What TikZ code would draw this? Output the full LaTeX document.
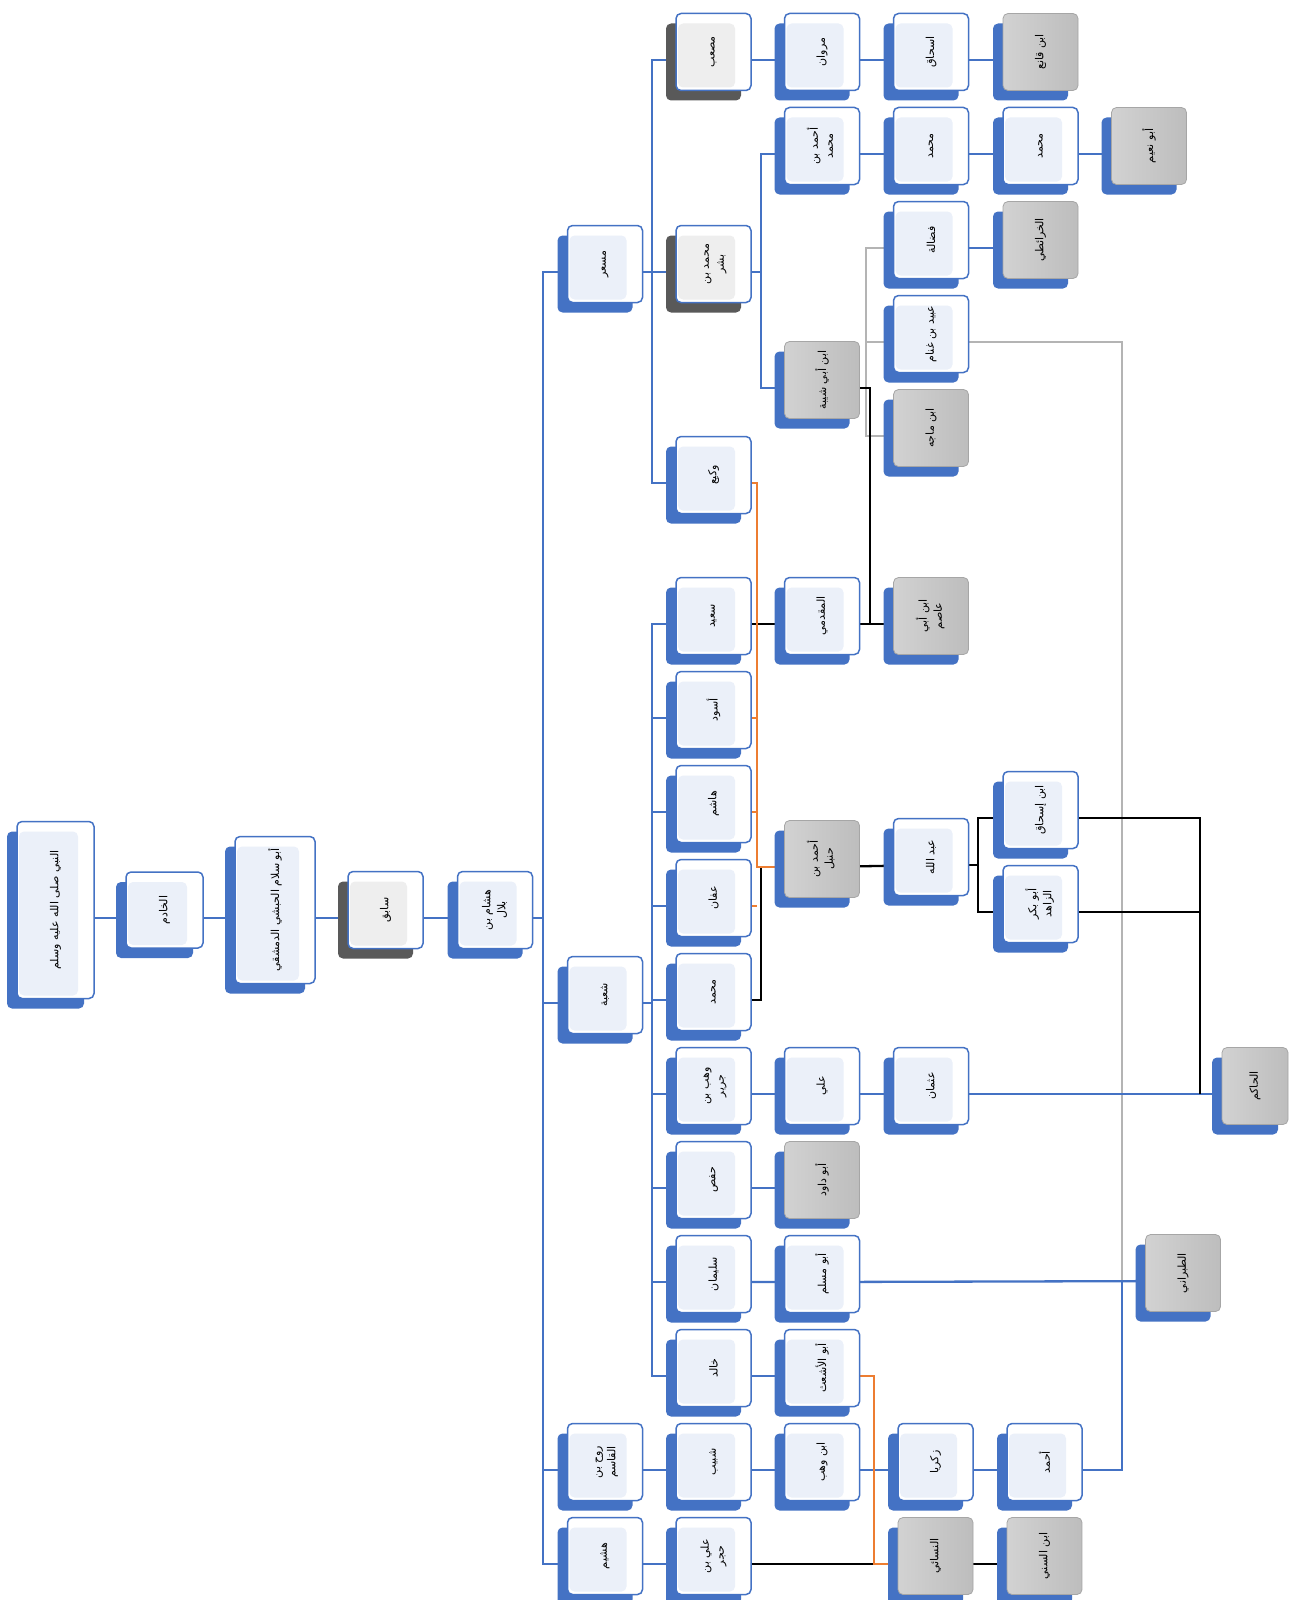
\documentclass[tikz,border=0pt]{standalone}
\usepackage{fontspec}
\usepackage{graphicx}
\usetikzlibrary{shadows,calc}
\newfontfamily\arabicfont[Script=Arabic]{DejaVu Sans}
\TeXXeTstate=1
\definecolor{bblue}{HTML}{4472C4}
\definecolor{dgray}{HTML}{595959}
\definecolor{ltblue}{HTML}{EBF0F9}
\definecolor{ltgray}{HTML}{EEEEEE}
\definecolor{lorange}{HTML}{ED7D31}
\definecolor{lgray}{HTML}{B4B4B4}
\definecolor{gA}{HTML}{D2D2D2}
\definecolor{gB}{HTML}{BDBDBD}
\pgfdeclarelayer{bg}
\pgfsetlayers{bg,main}
\newcommand\AR[1]{\rotatebox{90}{\beginR#1\endR}}
\newcommand\ARR[2]{\rotatebox{90}{\begin{tabular}{@{}c@{}}\beginR#1\endR\\[1pt]\beginR#2\endR\end{tabular}}}
\newcommand\bx[5]{\node[#1] (#2) at (#3,#4) {#5};
  \coordinate (#2p) at ([yshift=-8pt]#2.center);}
\tikzset{
  base/.style={rounded corners=5pt, minimum width=75pt, minimum height=77pt,
    inner sep=2pt, anchor=center, font=\arabicfont\fontsize{11}{14}\selectfont},
  bwbox/.style={base, general shadow={shadow xshift=-10pt, shadow yshift=-10pt, fill=bblue},
    draw=bblue, line width=1.5pt, fill=white,
    path picture={\fill[ltblue] ([shift={(2pt,3pt)}]path picture bounding box.south west)
      rectangle ([shift={(-16pt,-10pt)}]path picture bounding box.north east);}},
  dwbox/.style={base, general shadow={shadow xshift=-10pt, shadow yshift=-10pt, fill=dgray},
    draw=bblue, line width=1.5pt, fill=white,
    path picture={\fill[ltgray] ([shift={(2pt,3pt)}]path picture bounding box.south west)
      rectangle ([shift={(-16pt,-10pt)}]path picture bounding box.north east);}},
  gbox/.style={base, general shadow={shadow xshift=-10pt, shadow yshift=-10pt, fill=bblue},
    draw=gray!70, line width=0.8pt, left color=gA, right color=gB},
  bl/.style={draw=bblue, line width=2.3pt},
  bk/.style={draw=black, line width=2.3pt},
  gy/.style={draw=lgray, line width=2.3pt},
  og/.style={draw=lorange, line width=2.3pt}
}
\begin{document}
\begin{tikzpicture}[x=1pt,y=-1pt]
\useasboundingbox (0,0) rectangle (1290,1600);
% chain
\bx{bwbox, minimum width=77pt, minimum height=177pt}{root}{55.5}{910}{\AR{النبي صلى الله عليه وسلم}}
\bx{bwbox, minimum width=77pt, minimum height=76pt}{khadim}{164.5}{910}{\AR{الخادم}}
\bx{bwbox, minimum width=80pt, minimum height=147pt}{abusalam}{275}{910}{\AR{أبو سلام الحبشي الدمشقي}}
\bx{dwbox}{sabiq}{385.5}{910}{\AR{سابق}}
\bx{bwbox}{hisham}{495}{910}{\ARR{هشام بن}{بلال}}
% column 5
\bx{bwbox}{misar}{605}{264}{\AR{مسعر}}
\bx{bwbox}{shuba}{605}{995}{\AR{شعبة}}
\bx{bwbox}{rawh}{605}{1462}{\ARR{روح بن}{القاسم}}
\bx{bwbox}{hushaym}{605}{1556}{\AR{هشيم}}
% column 6
\bx{dwbox}{musab}{713.5}{52}{\AR{مصعب}}
\bx{dwbox}{mbbishr}{713.5}{264}{\ARR{محمد بن}{بشر}}
\bx{bwbox}{waki}{713.5}{475}{\AR{وكيع}}
\bx{bwbox}{said}{713.5}{616}{\AR{سعيد}}
\bx{bwbox}{aswad}{713.5}{710}{\AR{أسود}}
\bx{bwbox}{hashim}{713.5}{804}{\AR{هاشم}}
\bx{bwbox}{affan}{713.5}{898}{\AR{عفان}}
\bx{bwbox}{muhsix}{713.5}{992}{\AR{محمد}}
\bx{bwbox}{wahb}{713.5}{1086}{\ARR{وهب بن}{جرير}}
\bx{bwbox}{hafs}{713.5}{1180}{\AR{حفص}}
\bx{bwbox}{sulayman}{713.5}{1274}{\AR{سليمان}}
\bx{bwbox}{khalid}{713.5}{1368}{\AR{خالد}}
\bx{bwbox}{shabib}{713.5}{1462}{\AR{شبيب}}
\bx{bwbox}{alihujr}{713.5}{1556}{\ARR{علي بن}{حجر}}
% column 7
\bx{bwbox}{marwan}{822}{52}{\AR{مروان}}
\bx{bwbox}{ahmadm}{822}{146}{\ARR{أحمد بن}{محمد}}
\bx{gbox}{ibnabishayba}{822}{380}{\AR{ابن أبي شيبة}}
\bx{bwbox}{muqaddami}{822}{616}{\AR{المقدمي}}
\bx{gbox}{hanbal}{822}{859}{\ARR{أحمد بن}{حنبل}}
\bx{bwbox}{ali}{822}{1086}{\AR{علي}}
\bx{gbox}{abudawud}{822}{1180}{\AR{أبو داود}}
\bx{bwbox}{abumuslim}{822}{1274}{\AR{أبو مسلم}}
\bx{bwbox}{abuashath}{822}{1368}{\AR{أبو الأشعث}}
\bx{bwbox}{ibnwahb}{822}{1462}{\AR{ابن وهب}}
% column 8
\bx{bwbox}{ishaq}{931}{52}{\AR{اسحاق}}
\bx{bwbox}{muheight}{931}{146}{\AR{محمد}}
\bx{bwbox}{fudala}{931}{240}{\AR{فضالة}}
\bx{bwbox}{ubayd}{931}{334}{\AR{عبيد بن غنام}}
\bx{gbox}{ibnmaja}{931}{428}{\AR{ابن ماجه}}
\bx{gbox}{ibnabiasim}{931}{616}{\ARR{ابن أبي}{عاصم}}
\bx{bwbox}{abdallah}{931}{857}{\AR{عبد الله}}
\bx{bwbox}{uthman}{931}{1086}{\AR{عثمان}}
\bx{bwbox}{zakariya}{935.5}{1462}{\AR{زكريا}}
\bx{gbox}{nasai}{935.5}{1556}{\AR{النسائي}}
% column 9
\bx{gbox}{ibnqani}{1040.5}{52}{\AR{ابن قانع}}
\bx{bwbox}{muhnine}{1040.5}{146}{\AR{محمد}}
\bx{gbox}{kharaiti}{1040.5}{240}{\AR{الخرائطي}}
\bx{bwbox}{ibnishaq}{1040.5}{810}{\AR{ابن إسحاق}}
\bx{bwbox}{abubakr}{1040.5}{904}{\ARR{أبو بكر}{الزاهد}}
\bx{bwbox}{ahmadnine}{1044.5}{1462}{\AR{أحمد}}
\bx{gbox}{ibnsunni}{1044.5}{1556}{\AR{ابن السني}}
% column 10
\bx{gbox}{abunuaym}{1149}{146}{\AR{أبو نعيم}}
\bx{gbox}{tabarani}{1183}{1273}{\AR{الطبراني}}
\bx{gbox, minimum width=66pt}{hakim}{1255}{1086}{\AR{الحاكم}}
% column line x positions
\coordinate (T1) at (543,0);
\coordinate (T2) at (652,0);
\coordinate (T3) at (761,0);
\coordinate (TO) at (757,0);
\coordinate (TB) at (761,0);
\coordinate (T4g) at (866,0);
\coordinate (T4k) at (870,0);
\coordinate (T5) at (978,0);
\coordinate (T6) at (1122,0);
\coordinate (T7) at (1200,0);
\coordinate (T8) at (874,0);
\begin{pgfonlayer}{bg}
\fill[white] (0,0) rectangle (1290,1600);
% gray lines
\draw[gy] (ibnabishaybap) -| (T4g |- fudalap) -- (fudalap);
\draw[gy] (ibnabishaybap) -| (T4g |- ubaydp) -- (ubaydp);
\draw[gy] (ibnabishaybap) -| (T4g |- ibnmajap) -- (ibnmajap);
\draw[gy] (ubaydp) -| (T6 |- tabaranip);
% blue chain
\draw[bl] (rootp) -- (khadimp) -- (abusalamp) -- (sabiqp) -- (hishamp);
\foreach \c in {misar,shuba,rawh,hushaym}
  \draw[bl] (hishamp) -| (T1 |- \c p) -- (\c p);
\foreach \c in {musab,mbbishr,waki}
  \draw[bl] (misarp) -| (T2 |- \c p) -- (\c p);
\foreach \c in {said,aswad,hashim,affan,muhsix,wahb,hafs,sulayman,khalid}
  \draw[bl] (shubap) -| (T2 |- \c p) -- (\c p);
\foreach \c in {ahmadm,ibnabishayba}
  \draw[bl] (mbbishrp) -| (T3 |- \c p) -- (\c p);
\draw[bl] (musabp) -- (marwanp) -- (ishaqp) -- (ibnqanip);
\draw[bl] (ahmadmp) -- (muheightp) -- (muhninep) -- (abunuaymp);
\draw[bl] (fudalap) -- (kharaitip);
\draw[bl] (wahbp) -- (alip) -- (uthmanp) -- (hakimp);
\draw[bl] (hafsp) -- (abudawudp);
\draw[bl] (sulaymanp) -- (abumuslimp) -- (tabaranip);
\draw[bl] (khalidp) -- (abuashathp);
\draw[bl] (rawhp) -- (shabibp) -- (ibnwahbp) -- (zakariyap) -- (ahmadninep);
\draw[bl] (ahmadninep) -| (T6 |- tabaranip) -- (tabaranip);
\draw[bl] (hushaymp) -- (alihujrp);
% black lines
\draw[bk] (muhsixp) -| (TB |- hanbalp) -- (hanbalp);
\draw[bk] (saidp) -- (muqaddamip) -- (ibnabiasimp);
\draw[bk] (ibnabishaybap) -| (T4k |- ibnabiasimp) -- (ibnabiasimp);
\draw[bk] (hanbalp) -- (abdallahp);
\draw[bk] (abdallahp) -| (T5 |- ibnishaqp) -- (ibnishaqp);
\draw[bk] (abdallahp) -| (T5 |- abubakrp) -- (abubakrp);
\draw[bk] (ibnishaqp) -| (T7 |- hakimp);
\draw[bk] (abubakrp) -| (T7 |- hakimp);
\draw[bk] (alihujrp) -- (nasaip) -- (ibnsunnip);
% orange lines
\draw[og] (wakip) -| (TO |- hanbalp) -- (hanbalp);
\foreach \c in {aswad,hashim,affan}
  \draw[og] (\c p) -- (\c p -| TO);
\draw[og] (abuashathp) -| (T8 |- nasaip) -- (nasaip);
\end{pgfonlayer}
\end{tikzpicture}
\end{document}
